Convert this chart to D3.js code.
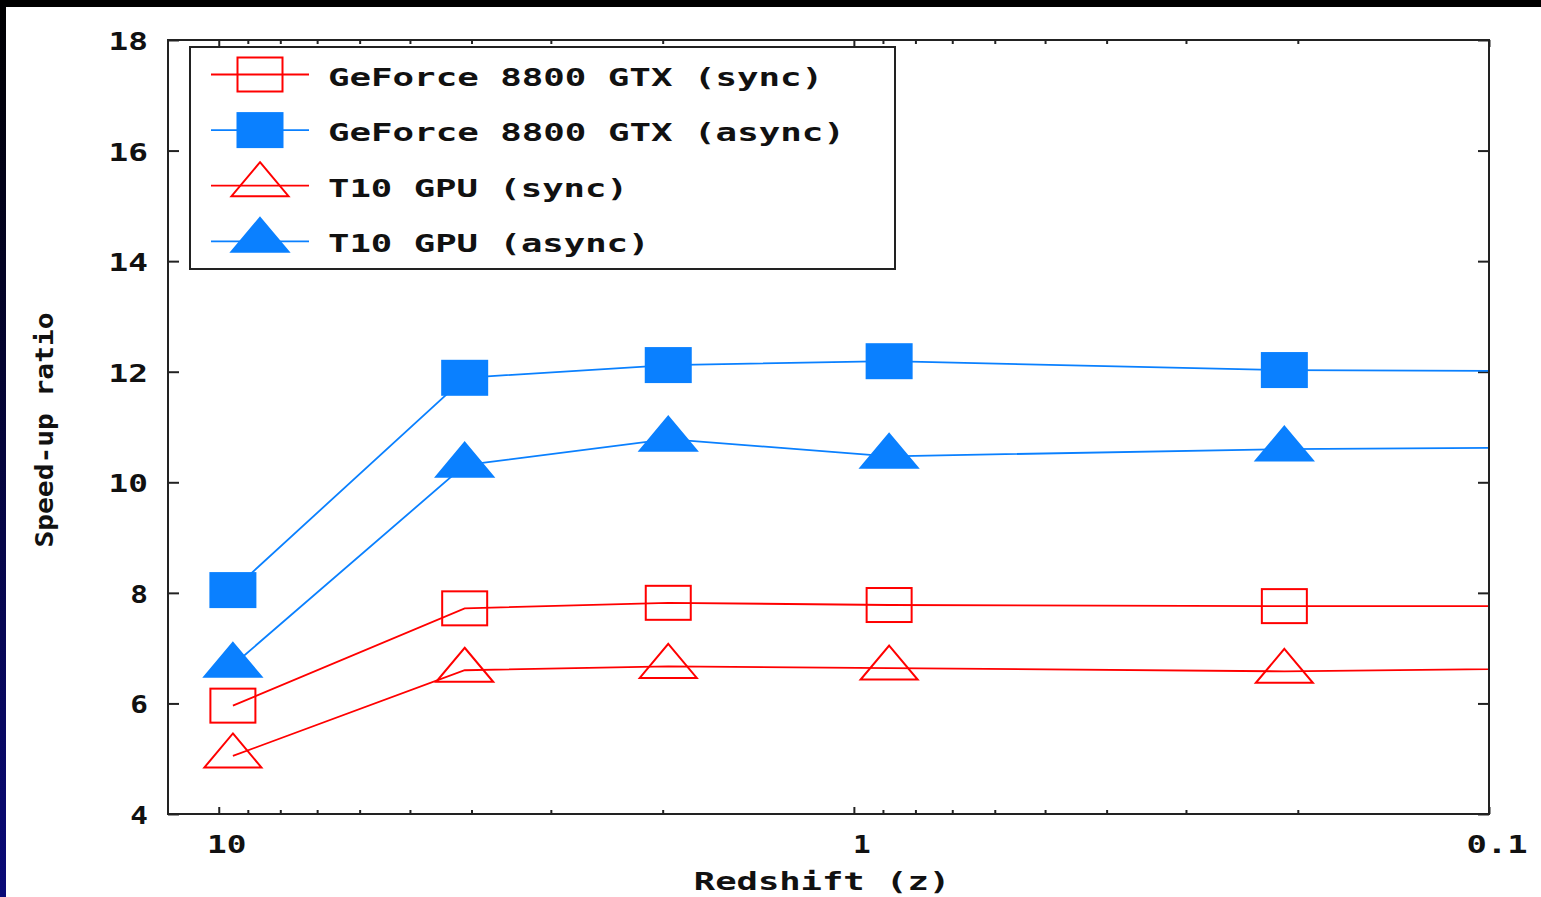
<!DOCTYPE html>
<html>
<head>
<meta charset="utf-8">
<script src="https://cdn.jsdelivr.net/npm/d3@7"></script>
<style>
  html, body { margin: 0; padding: 0; background: #fff; }
  svg { display: block; }
  text { font-family: "DejaVu Sans Mono", "Liberation Mono", monospace; font-weight: bold; fill: #111; }
</style>
</head>
<body>
<div id="chart"></div>
<script>
// --- data ---
const redshift   = [9.5, 4.1, 1.96, 0.88, 0.21, 0.05];
const gtxSync    = [5.96, 7.72, 7.82, 7.78, 7.76, 7.76];
const gtxAsync   = [8.05, 11.89, 12.12, 12.19, 12.03, 12.0];
const t10Sync    = [5.05, 6.60, 6.67, 6.64, 6.58, 6.66];
const t10Async   = [6.69, 10.31, 10.78, 10.47, 10.60, 10.64];
const seriesNames = ['GeForce 8800 GTX (sync)', 'GeForce 8800 GTX (async)', 'T10 GPU (sync)', 'T10 GPU (async)'];
const xTickLabels = ['10', '1', '0.1'];
const yTicks = [4, 6, 8, 10, 12, 14, 16, 18];

const W = 1541, H = 897;
const CHAR = 21.7; // width of one character cell

const svg = d3.select('#chart').append('svg').attr('width', W).attr('height', H);

// outer frame of the screenshot
const defs = svg.append('defs');
const grad = defs.append('linearGradient').attr('id', 'edge').attr('x1', 0).attr('y1', 0).attr('x2', 0).attr('y2', 1);
grad.append('stop').attr('offset', '0%').attr('stop-color', '#000');
grad.append('stop').attr('offset', '100%').attr('stop-color', '#0a0a78');
svg.append('rect').attr('width', W).attr('height', H).attr('fill', '#fff');
svg.append('rect').attr('x', 0).attr('y', 0).attr('width', W).attr('height', 7).attr('fill', '#000');
svg.append('rect').attr('x', 0).attr('y', 0).attr('width', 6).attr('height', H).attr('fill', 'url(#edge)');

// plot area
const pL = 168, pR = 1489, pT = 40, pB = 814;
const x = d3.scaleLog().domain([12.02, 0.1]).range([pL, pR]);
const y = d3.scaleLinear().domain([4, 18]).range([pB, pT]);

defs.append('clipPath').attr('id', 'plot')
  .append('rect').attr('x', pL).attr('y', pT).attr('width', pR - pL).attr('height', pB - pT);

// monospace text stretched to the picture's character cell
function label(g, str, px, py, anchor) {
  return g.append('text')
    .attr('x', px).attr('y', py)
    .attr('text-anchor', anchor || 'start')
    .attr('font-size', 25)
    .attr('textLength', str.length * CHAR - 4)
    .attr('lengthAdjust', 'spacingAndGlyphs')
    .text(str);
}

// ticks (inward, all four sides)
const majorX = [10, 1, 0.1];
const minorX = [];
[1, 0.1].forEach(d => { for (let k = 2; k <= 9; k++) minorX.push(d * k); });

const axisStyle = sel => sel.call(g => g.select('.domain').remove())
  .call(g => g.selectAll('line').attr('stroke', '#222').attr('stroke-width', 2))
  .call(g => g.selectAll('text').remove());

svg.append('g').attr('transform', `translate(0,${pB})`)
  .call(d3.axisBottom(x).tickValues(majorX).tickSize(-7)).call(axisStyle);
svg.append('g').attr('transform', `translate(0,${pB})`)
  .call(d3.axisBottom(x).tickValues(minorX).tickSize(-4)).call(axisStyle);
svg.append('g').attr('transform', `translate(0,${pT})`)
  .call(d3.axisTop(x).tickValues(majorX).tickSize(-7)).call(axisStyle);
svg.append('g').attr('transform', `translate(0,${pT})`)
  .call(d3.axisTop(x).tickValues(minorX).tickSize(-4)).call(axisStyle);
svg.append('g').attr('transform', `translate(${pL},0)`)
  .call(d3.axisLeft(y).tickValues(yTicks).tickSize(-11)).call(axisStyle);
svg.append('g').attr('transform', `translate(${pR},0)`)
  .call(d3.axisRight(y).tickValues(yTicks).tickSize(-11)).call(axisStyle);

// tick labels
const labels = svg.append('g');
majorX.forEach((v, i) => label(labels, xTickLabels[i], x(v) + 8, 853, 'middle'));
yTicks.forEach(v => label(labels, String(v), 148, y(v) + 10, 'end'));

// axis titles
label(labels, 'Redshift (z)', 822, 890, 'middle');
labels.append('text')
  .attr('transform', 'translate(53,430) rotate(-90)')
  .attr('text-anchor', 'middle')
  .attr('font-size', 24)
  .attr('textLength', 235)
  .attr('lengthAdjust', 'spacingAndGlyphs')
  .text('Speed-up ratio');

// markers: squares 46x35, triangles 58x35 placed on their centroid
function marker(g, type, cx, cy, color) {
  if (type.startsWith('square')) {
    g.append('rect')
      .attr('x', cx - 22.5).attr('y', cy - 17).attr('width', 45).attr('height', 34)
      .attr('fill', type === 'squareFill' ? color : 'none')
      .attr('stroke', color).attr('stroke-width', 2);
  } else {
    const pts = [[cx, cy - 22.5], [cx + 28.5, cy + 11.5], [cx - 28.5, cy + 11.5]];
    g.append('path')
      .attr('d', 'M' + pts.join('L') + 'Z')
      .attr('fill', type === 'triFill' ? color : 'none')
      .attr('stroke', color).attr('stroke-width', 2);
  }
}

const series = [
  { name: seriesNames[0], values: gtxSync,  color: '#ff0000', type: 'square' },
  { name: seriesNames[1], values: gtxAsync, color: '#0a80ff', type: 'squareFill' },
  { name: seriesNames[2], values: t10Sync,  color: '#ff0000', type: 'tri' },
  { name: seriesNames[3], values: t10Async, color: '#0a80ff', type: 'triFill' }
];

const plot = svg.append('g').attr('clip-path', 'url(#plot)');
const line = d3.line().x((d, i) => x(redshift[i])).y(d => y(d));

series.forEach(s => {
  plot.append('path')
    .attr('d', line(s.values))
    .attr('fill', 'none')
    .attr('stroke', s.color)
    .attr('stroke-width', 1.8);
  const mg = plot.append('g');
  s.values.forEach((v, i) => marker(mg, s.type, x(redshift[i]), y(v), s.color));
});

// frame
svg.append('rect')
  .attr('x', pL).attr('y', pT).attr('width', pR - pL).attr('height', pB - pT)
  .attr('fill', 'none').attr('stroke', '#222').attr('stroke-width', 2);

// legend
const leg = svg.append('g');
leg.append('rect')
  .attr('x', 190).attr('y', 47).attr('width', 705).attr('height', 222)
  .attr('fill', '#fff').attr('stroke', '#222').attr('stroke-width', 2);
series.forEach((s, i) => {
  const ry = 74.5 + i * 55.6;
  leg.append('line')
    .attr('x1', 211).attr('x2', 309).attr('y1', ry).attr('y2', ry)
    .attr('stroke', s.color).attr('stroke-width', 1.8);
  marker(leg, s.type, 260, s.type.startsWith('tri') ? ry - 1 : ry, s.color);
  label(leg, s.name, 328, ry + 11, 'start');
});
</script>
</body>
</html>
